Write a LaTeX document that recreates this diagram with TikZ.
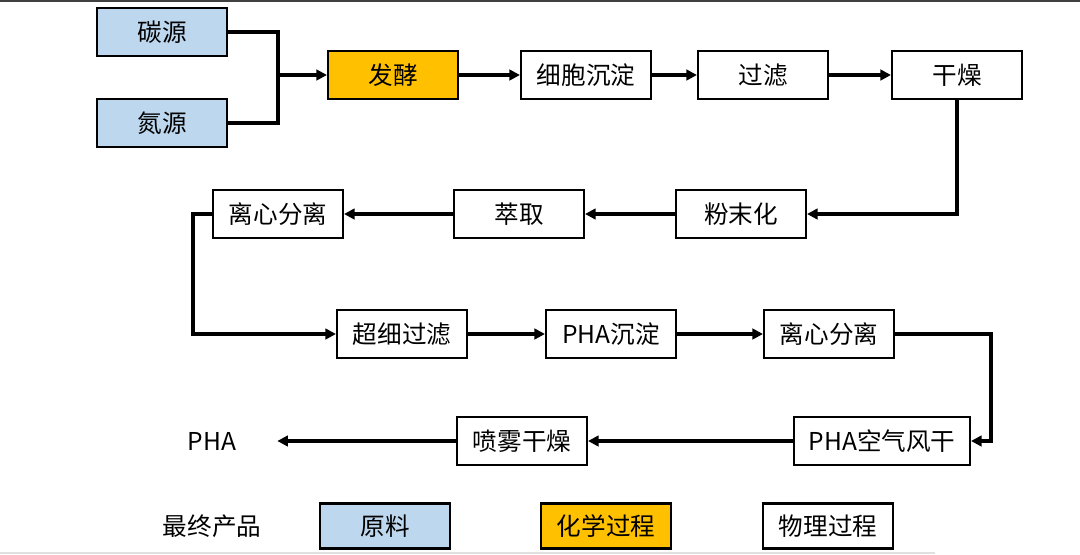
\documentclass[tikz,border=0pt]{standalone}
\usepackage{fontspec}
\setmainfont{Noto Sans CJK SC}
\usetikzlibrary{arrows.meta,positioning}
\definecolor{rawblue}{HTML}{BDD7EE}
\definecolor{chemgold}{HTML}{FFC000}

\begin{document}
\begin{tikzpicture}[
    x=0.02cm, y=-0.02cm,
    box/.style={draw, line width=1.2pt, align=center, minimum width=2.6cm, minimum height=0.96cm, inner sep=0pt, font=\fontsize{14}{16}\selectfont},
    raw/.style={box, fill=rawblue},
    chem/.style={box, fill=chemgold},
    legbox/.style={box, minimum height=0.9cm},
    link/.style={-{Triangle[length=6pt,width=6pt]}, line width=2pt},
    line/.style={line width=2pt}
]
\useasboundingbox (0,0) rectangle (1080,555);
\draw[black!75, line width=1pt] (0,1) -- (1080,1);
\draw[black!12, line width=1.5pt] (0,553) -- (935,553);

\node[raw] (carbon) at (162,32) {碳源};
\node[raw] (nitro) at (162,123) {氮源};
\node[chem] (ferm) at (393,75) {发酵};
\node[box] (cell) at (586,75) {细胞沉淀};
\node[box] (filt) at (763,75) {过滤};
\node[box] (dry) at (957,75) {干燥};
\node[box] (powder) at (741,214) {粉末化};
\node[box] (extract) at (519,214) {萃取};
\node[box] (cent) at (278,214) {离心分离};
\node[box] (ultra) at (402,334) {超细过滤};
\node[box] (prec) at (611,334) {PHA沉淀};
\node[box] (centb) at (829,334) {离心分离};
\node[box, minimum width=3.52cm] (air) at (882,441) {PHA空气风干};
\node[box] (spray) at (522,441) {喷雾干燥};
\node[minimum width=2.6cm, inner sep=0pt, font=\fontsize{14}{16}\selectfont] (pha) at (212,441) {PHA};

\coordinate (join) at (278,75);
\coordinate (turnl) at (193,214);
\coordinate (turnr) at (991,334);

\draw[line] (carbon.east) -| (join);
\draw[line] (nitro.east) -| (join);
\draw[link] (join) -- (ferm.west);
\draw[link] (ferm) -- (cell);
\draw[link] (cell) -- (filt);
\draw[link] (filt) -- (dry);
\draw[link] (dry.south) |- (powder.east);
\draw[link] (powder) -- (extract);
\draw[link] (extract) -- (cent);
\draw[link] (cent.west) -- (turnl) |- (ultra.west);
\draw[link] (ultra) -- (prec);
\draw[link] (prec) -- (centb);
\draw[link] (centb.east) -- (turnr) |- (air.east);
\draw[link] (air) -- (spray);
\draw[link] (spray.west) -- (pha.east);

\node[font=\fontsize{14}{16}\selectfont] (final) at (212,526) {最终产品};
\node[raw, legbox] (legraw) at (385,526) {原料};
\node[chem, legbox] (legchem) at (606,526) {化学过程};
\node[legbox] (legphys) at (828,526) {物理过程};
\end{tikzpicture}
\end{document}
